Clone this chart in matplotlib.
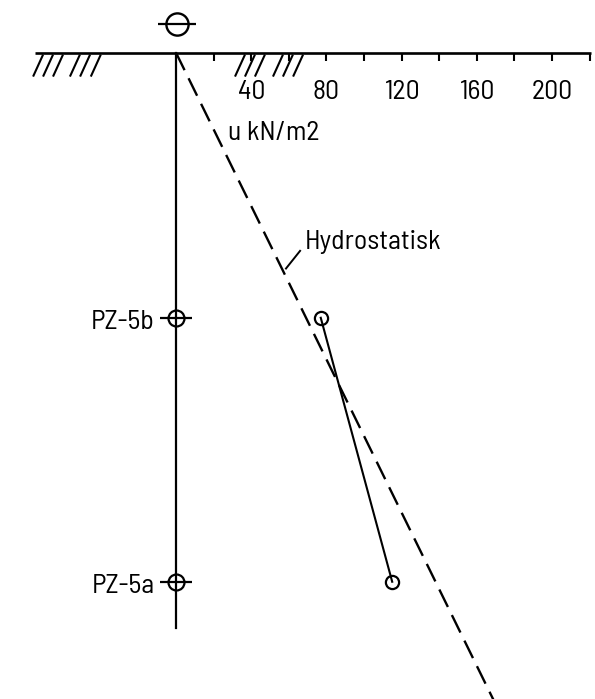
import matplotlib
matplotlib.use("Agg")
import matplotlib.pyplot as plt
import numpy as np

plt.rcParams['font.family'] = ['Barlow Semi Condensed', 'Barlow Condensed', 'DejaVu Sans']
plt.rcParams['lines.scale_dashes'] = False

# ---- data ----
piezometers = ["PZ-5a", "PZ-5b"]
piezo_depth = [14.07, 7.05]          # m below ground
piezo_pressure = [115, 77]           # measured pore pressure u, kN/m2
hydro_depth = [0.0, 18.0]            # m
hydro_pressure = [0.0, 176.6]        # kN/m2 (gamma_w * z)
tick_values = [20, 40, 60, 80, 100, 120, 140, 160, 180, 200, 220]
tick_labels = ["40", "80", "120", "160", "200"]
axis_label = "u kN/m2"
hydro_label = "Hydrostatisk"
borehole_bottom = 15.3

# ---- figure: pixel-like layout ----
W, H = 595, 699
fig = plt.figure(figsize=(W / 100, H / 100), dpi=100)
ax = fig.add_axes([0, 0, 1, 1])
px_per_u = 1.88     # px per kN/m2
px_per_m = 37.6     # px per m
x0, y0 = 176, 52.7  # origin pixel
ax.set_xlim(-x0 / px_per_u, (W - x0) / px_per_u)
ax.set_ylim((H - y0) / px_per_m, -y0 / px_per_m)
ax.axis('off')

FS = 20
lw = 1.7
# ground / pressure axis
ax.plot([-75, 221], [0, 0], color='black', lw=1.9, solid_capstyle='butt')
ax.plot(tick_values, [0] * len(tick_values), ls='none', marker=3,
        ms=6, mew=1.5, color='black')
for lab in tick_labels:
    ax.text(float(lab), 1.22, lab, ha='center', va='baseline', fontsize=FS)
ax.text(27.7, 2.33, axis_label, ha='left', va='baseline', fontsize=FS)

# ground hatching (decoration)
hatch_tops = [-70.7, -65.4, -60.1, -51.1, -45.7, -40.0,
              36.7, 42.0, 47.3, 56.9, 62.2, 67.6]
dz = 22 / px_per_m
du = 10 / px_per_u
for t in hatch_tops:
    ax.plot([t, t - du], [0.05, 0.05 + dz], color='black', lw=1.5,
            solid_capstyle='butt')

# borehole line
ax.plot([0, 0], [0, borehole_bottom], color='black', lw=1.6)
# top symbol
ax.plot([0.5], [-29 / px_per_m], marker='o', ms=16, mfc='none',
        mec='black', mew=1.7)
ax.plot([0.5], [-29 / px_per_m], marker='_', ms=28, mec='black', mew=1.6)

# piezometer symbols on borehole
for name, d in zip(piezometers, piezo_depth):
    ax.plot([0], [d], marker='o', ms=11.5, mfc='none', mec='black', mew=1.6)
    ax.plot([0], [d], marker='_', ms=23, mec='black', mew=1.6)
    ax.text(-11.5, d + 0.29, name, ha='right', va='baseline', fontsize=FS)

# hydrostatic line
ax.plot(hydro_pressure, hydro_depth, color='black', lw=lw,
        dashes=(14, 6.5))
ax.text(68.6, 5.21, hydro_label, ha='left', va='baseline', fontsize=FS)
ax.plot([66.0, 58.5], [5.27, 5.74], color='black', lw=1.4)

# measured pressure line
ax.plot(piezo_pressure, piezo_depth, color='black', lw=1.5)
ax.plot(piezo_pressure, piezo_depth, ls='none', marker='o', ms=9.5,
        mfc='none', mec='black', mew=1.6)

fig.savefig("out.png", dpi=100, facecolor='white')
